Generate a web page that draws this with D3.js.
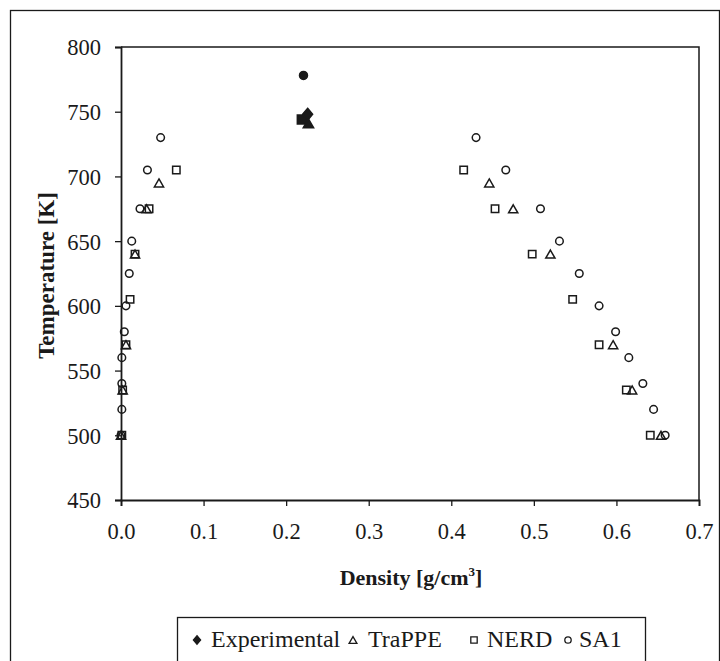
<!DOCTYPE html>
<html>
<head>
<meta charset="utf-8">
<script src="https://cdn.jsdelivr.net/npm/d3@7"></script>
<style>
  html, body { margin: 0; padding: 0; background: #fff; }
  svg { display: block; }
  text { font-family: "Liberation Serif", "Times New Roman", serif; fill: #1a1a1a; }
</style>
</head>
<body>
<svg id="chart" width="720" height="661"></svg>
<script>
// Coexistence curve: temperature vs. vapour / liquid density

const yTicks = [450, 500, 550, 600, 650, 700, 750, 800];
const xTicks = [0.0, 0.1, 0.2, 0.3, 0.4, 0.5, 0.6, 0.7];

// SA1 model
const sa1Temp   = [500, 520, 540, 560, 580, 600, 625, 650, 675, 705, 730];
const sa1Vapor  = [0.000, 0.001, 0.001, 0.001, 0.004, 0.006, 0.010, 0.013, 0.023, 0.032, 0.048];
const sa1Liquid = [0.659, 0.645, 0.632, 0.615, 0.599, 0.579, 0.555, 0.531, 0.508, 0.466, 0.430];

// NERD model
const nerdTemp   = [500, 535, 570, 605, 640, 675, 705];
const nerdVapor  = [0.001, 0.002, 0.006, 0.011, 0.017, 0.034, 0.067];
const nerdLiquid = [0.641, 0.612, 0.579, 0.547, 0.498, 0.453, 0.415];

// TraPPE model
const trappeTemp   = [500, 535, 570, 640, 675, 695];
const trappeVapor  = [0.000, 0.002, 0.006, 0.017, 0.031, 0.046];
const trappeLiquid = [0.654, 0.619, 0.596, 0.520, 0.475, 0.446];

// Critical points [density, temperature]
const expCritical    = [0.226, 748];
const trappeCritical = [0.227, 741];
const nerdCritical   = [0.219, 744];
const sa1Critical    = [0.221, 778];

const legendNames = ["Experimental", "TraPPE", "NERD", "SA1"];

const ink = "#1a1a1a";
const svg = d3.select("#chart");

// outer frame
svg.append("rect")
  .attr("x", 10.5).attr("y", 10.5)
  .attr("width", 709).attr("height", 660)
  .attr("fill", "none").attr("stroke", ink).attr("stroke-width", 1.3);

const plot = { left: 121, right: 699, top: 47, bottom: 500 };

const x = d3.scaleLinear().domain([0, 0.7]).range([plot.left, plot.right]);
const y = d3.scaleLinear().domain([450, 800]).range([plot.bottom, plot.top]);

// plot-area border (top and right)
svg.append("path")
  .attr("d", `M${plot.left},${plot.top}H${plot.right}V${plot.bottom}`)
  .attr("fill", "none").attr("stroke", ink).attr("stroke-width", 1.5);

const xAxis = svg.append("g")
  .attr("transform", `translate(0,${plot.bottom})`)
  .call(d3.axisBottom(x).tickValues(xTicks).tickFormat(d3.format(".1f")).tickSize(6).tickPadding(17));
const yAxis = svg.append("g")
  .attr("transform", `translate(${plot.left},0)`)
  .call(d3.axisLeft(y).tickValues(yTicks).tickSize(6).tickPadding(14));

[xAxis, yAxis].forEach(g => {
  g.select(".domain").attr("stroke", ink).attr("stroke-width", 1.8);
  g.selectAll(".tick line").attr("stroke", ink).attr("stroke-width", 1.3);
  g.selectAll(".tick text")
    .attr("fill", ink)
    .style("font-family", "'Liberation Serif', 'Times New Roman', serif")
    .style("font-size", "22.5px");
});
yAxis.selectAll(".tick text").attr("dy", "0.35em");

// axis titles
svg.append("text")
  .attr("transform", `translate(54,${(plot.top + plot.bottom) / 2 + 2}) rotate(-90)`)
  .attr("text-anchor", "middle")
  .style("font-size", "23px").style("font-weight", "bold")
  .text("Temperature [K]");

const xt = svg.append("text")
  .attr("x", 411).attr("y", 585)
  .attr("text-anchor", "middle")
  .style("font-size", "22px").style("font-weight", "bold");
xt.append("tspan").text("Density [g/cm");
xt.append("tspan").attr("dy", -9).style("font-size", "13px").text("3");
xt.append("tspan").attr("dy", 9).text("]");

// marker shapes, centred on their bounding box
const shapes = {
  circle:   s => `M${-s},0A${s},${s} 0 1,0 ${s},0A${s},${s} 0 1,0 ${-s},0Z`,
  square:   s => `M${-s},${-s}H${s}V${s}H${-s}Z`,
  triangle: s => `M0,${-s}L${s * 1.15},${s}H${-s * 1.15}Z`,
  diamond:  s => `M0,${-s * 1.2}L${s},0L0,${s * 1.2}L${-s},0Z`
};

function drawSeries(temps, densities, shape, size, filled) {
  svg.append("g").selectAll("path")
    .data(temps.map((t, i) => [densities[i], t]))
    .join("path")
    .attr("transform", d => `translate(${x(d[0])},${y(d[1])})`)
    .attr("d", shapes[shape](size))
    .attr("fill", filled ? ink : "#fff")
    .attr("fill-opacity", filled ? 1 : 0)
    .attr("stroke", ink)
    .attr("stroke-width", 1.5);
}

drawSeries(sa1Temp, sa1Vapor, "circle", 3.8, false);
drawSeries(sa1Temp, sa1Liquid, "circle", 3.8, false);
drawSeries(nerdTemp, nerdVapor, "square", 3.7, false);
drawSeries(nerdTemp, nerdLiquid, "square", 3.7, false);
drawSeries(trappeTemp, trappeVapor, "triangle", 4, false);
drawSeries(trappeTemp, trappeLiquid, "triangle", 4, false);

// critical points
drawSeries([sa1Critical[1]], [sa1Critical[0]], "circle", 4, true);
drawSeries([nerdCritical[1]], [nerdCritical[0]], "square", 4.5, true);
drawSeries([trappeCritical[1]], [trappeCritical[0]], "triangle", 4.5, true);
drawSeries([expCritical[1]], [expCritical[0]], "diamond", 5, true);

// legend
const legend = svg.append("g");
legend.append("rect")
  .attr("x", 177.5).attr("y", 617.5).attr("width", 468).attr("height", 60)
  .attr("fill", "#fff").attr("stroke", ink).attr("stroke-width", 1.3);

const legendItems = [
  { shape: "diamond",  size: 3.6, filled: true,  mx: 197, tx: 211 },
  { shape: "triangle", size: 3.4, filled: false, mx: 353, tx: 368 },
  { shape: "square",   size: 3.2, filled: false, mx: 474, tx: 487 },
  { shape: "circle",   size: 3.2, filled: false, mx: 568, tx: 579 }
];
legendItems.forEach((it, i) => {
  legend.append("path")
    .attr("transform", `translate(${it.mx},640)`)
    .attr("d", shapes[it.shape](it.size))
    .attr("fill", it.filled ? ink : "#fff")
    .attr("stroke", ink).attr("stroke-width", 1.3);
  legend.append("text")
    .attr("x", it.tx).attr("y", 647)
    .style("font-size", "24px")
    .text(legendNames[i]);
});
</script>
</body>
</html>
